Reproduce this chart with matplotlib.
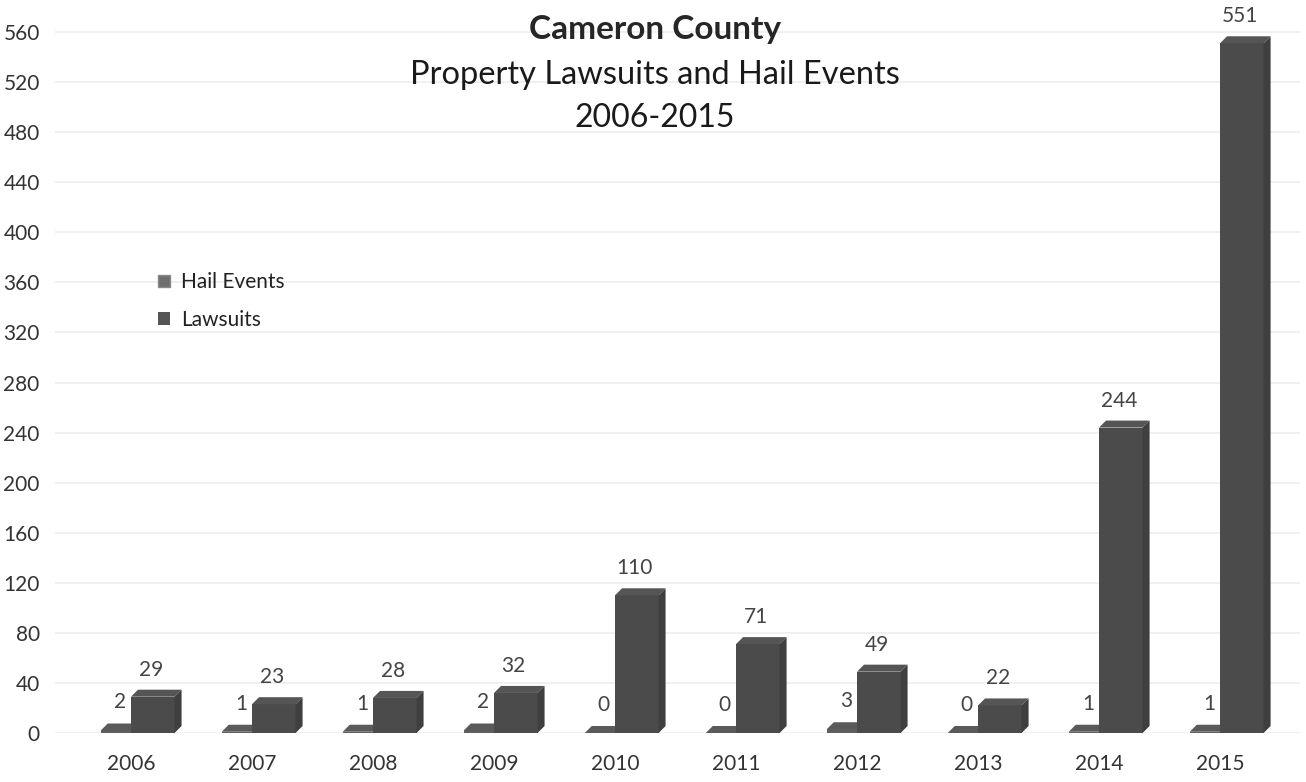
import matplotlib.pyplot as plt
from matplotlib.patches import Polygon, Patch

years = ["2006", "2007", "2008", "2009", "2010", "2011", "2012", "2013", "2014", "2015"]
hail_events = [2, 1, 1, 2, 0, 0, 3, 0, 1, 1]
lawsuits = [29, 23, 28, 32, 110, 71, 49, 22, 244, 551]
y_ticks = list(range(0, 561, 40))

plt.rcParams['font.family'] = ['Lato', 'DejaVu Sans']

W, H = 1306, 782
fig = plt.figure(figsize=(W / 100, H / 100), dpi=100)
fig.patch.set_facecolor('white')

# axes placed in pixel terms: x=0 category at 131px, 121px per category
x_left, x_right = -0.628, 9.661
ax = fig.add_axes([55 / W, 49 / H, 1245 / W, 726 / H])
ax.set_xlim(x_left, x_right)
ax.set_ylim(0, 580)

for s in ax.spines.values():
    s.set_visible(False)
ax.set_yticks(y_ticks)
ax.set_yticklabels([str(v) for v in y_ticks], fontsize=15, color='#333333')
ax.tick_params(axis='y', length=0, pad=11)
ax.set_xticks(range(len(years)))
ax.set_xticklabels(years, fontsize=15, color='#333333')
ax.tick_params(axis='x', length=0, pad=15)
ax.yaxis.grid(True, color='#eeeeee', lw=1.2)
ax.set_axisbelow(True)

# depth of the pseudo-3D columns (data units)
dx, dy = 0.058, 5.6


def box(x0, x1, h, front, top, side):
    ax.add_patch(Polygon([(x0, 0), (x1, 0), (x1, h), (x0, h)], closed=True,
                         facecolor=front, edgecolor='none', zorder=3))
    ax.add_patch(Polygon([(x0, h), (x1, h), (x1 + dx, h + dy), (x0 + dx, h + dy)],
                         closed=True, facecolor=top, edgecolor='none', zorder=3))
    ax.add_patch(Polygon([(x1, 0), (x1 + dx, dy), (x1 + dx, h + dy), (x1, h)],
                         closed=True, facecolor=side, edgecolor='none', zorder=3))


for i, (hv, lv) in enumerate(zip(hail_events, lawsuits)):
    h0, h1 = i - 0.25, i + 0.0
    l0, l1 = i + 0.0, i + 0.36
    box(h0, h1, hv, '#5f5f5f', '#5a5a5a', '#555555')
    box(l0, l1, lv, '#4b4b4b', '#555555', '#3f3f3f')
    ax.annotate(str(hv), ((h0 + h1) / 2, hv), xytext=(4, 28), textcoords='offset pixels',
                ha='center', va='center', fontsize=15, color='#444444')
    ax.annotate(str(lv), ((l0 + l1) / 2, lv), xytext=(-2, 27), textcoords='offset pixels',
                ha='center', va='center', fontsize=15, color='#444444')

fig.text(655 / W, 1 - 30 / H, "Cameron County", ha='center', va='center',
         fontsize=24, fontweight='bold', color='#262626')
fig.text(655 / W, 1 - 75 / H, "Property Lawsuits and Hail Events", ha='center', va='center',
         fontsize=23.5, color='#1a1a1a')
fig.text(655 / W, 1 - 118 / H, "2006-2015", ha='center', va='center',
         fontsize=23, color='#1a1a1a')

handles = [Patch(facecolor='#6e6e6e', edgecolor='#8a8a8a', label='Hail Events'),
           Patch(facecolor='#555555', edgecolor='none', label='Lawsuits')]
fig.legend(handles=handles, loc='upper left', bbox_to_anchor=(148 / W, 1 - 262 / H),
           frameon=False, fontsize=15, handlelength=0.55, handleheight=0.55,
           handletextpad=0.55, labelspacing=0.85, borderpad=0, labelcolor='#222222')

fig.savefig("out.png", dpi=100, facecolor='white')
